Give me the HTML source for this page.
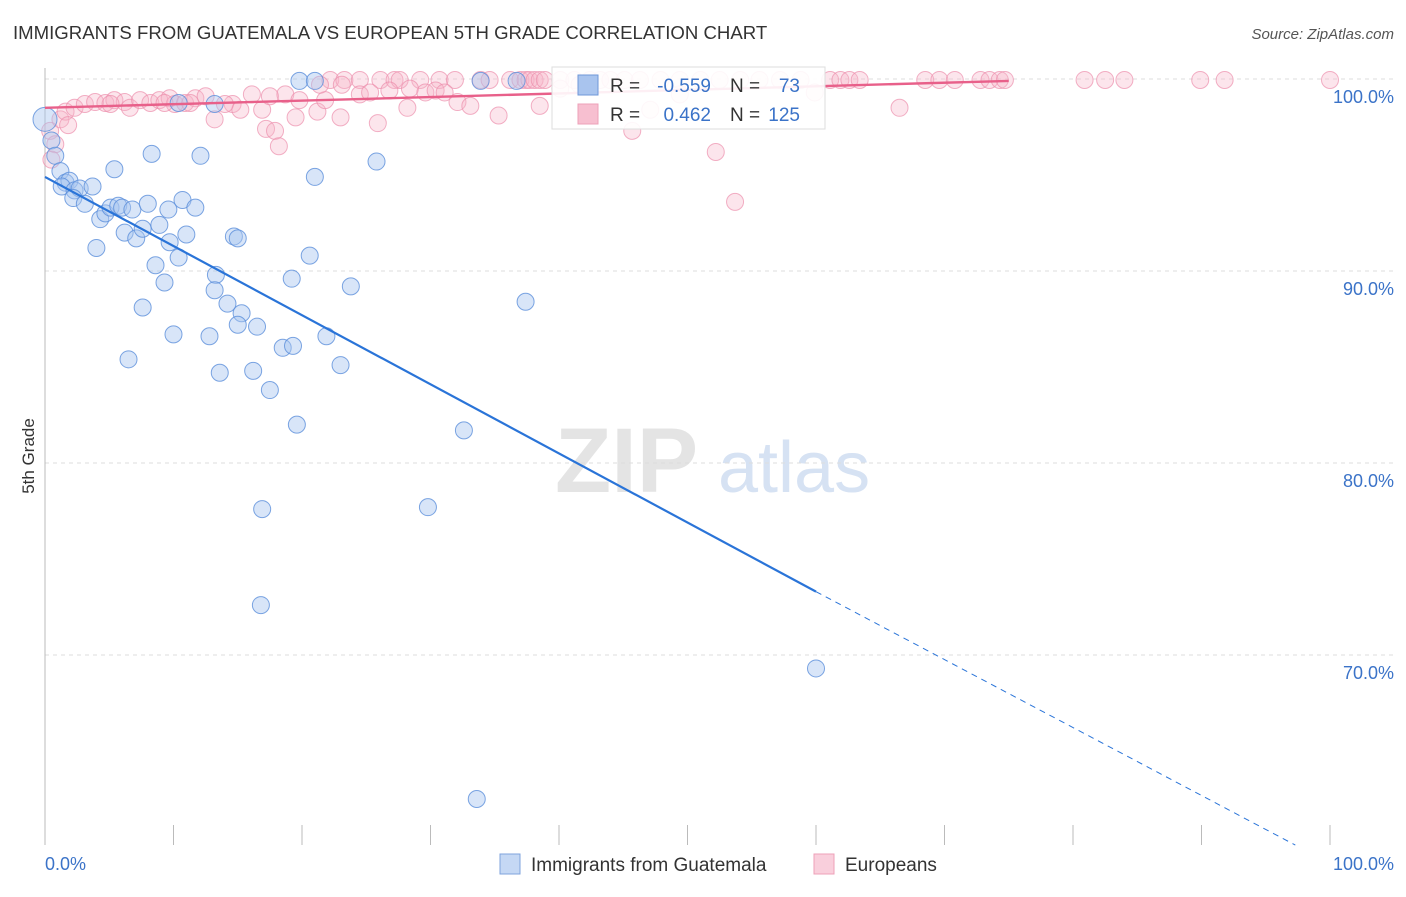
<!DOCTYPE html>
<html><head><meta charset="utf-8"><style>
body{margin:0;background:#fff;font-family:"Liberation Sans",sans-serif;}
svg text{font-family:"Liberation Sans",sans-serif;}
</style></head><body>
<svg id="c" width="1406" height="892" xmlns="http://www.w3.org/2000/svg">
<text x="13" y="39" font-size="18.6" fill="#333">IMMIGRANTS FROM GUATEMALA VS EUROPEAN 5TH GRADE CORRELATION CHART</text>
<text x="1394" y="39" font-size="15" fill="#555" font-style="italic" text-anchor="end">Source: ZipAtlas.com</text>
<g>
<text x="555" y="492" font-size="92" fill="#e4e4e4" font-family="Liberation Serif" font-weight="bold">ZIP</text>
<text x="718" y="492" font-size="72" fill="#d6e2f3">atlas</text>
</g>
<g id="grid"></g>
<g id="axes"></g>
<g id="pts"></g>
<g id="trend"></g>
<text transform="translate(34,456) rotate(-90)" font-size="17" fill="#333" text-anchor="middle">5th Grade</text>
<text x="45" y="870" font-size="18" fill="#3b73c8">0.0%</text>
<text x="1394" y="870" font-size="18" fill="#3b73c8" text-anchor="end">100.0%</text>
<g>
<rect x="552" y="67" width="273" height="62" fill="#fff" fill-opacity="0.9" stroke="#ddd"/>
<rect x="578" y="75" width="20" height="20" fill="#a9c4ee" stroke="#6f97d8"/>
<rect x="578" y="104" width="20" height="20" fill="#f7bfd0" stroke="#eea0b8"/>
<text x="610" y="92" font-size="19" fill="#333">R =</text>
<text x="711" y="92" font-size="19" fill="#3b73c8" text-anchor="end">-0.559</text>
<text x="730" y="92" font-size="19" fill="#333">N =</text>
<text x="800" y="92" font-size="19" fill="#3b73c8" text-anchor="end">73</text>
<text x="610" y="121" font-size="19" fill="#333">R =</text>
<text x="711" y="121" font-size="19" fill="#3b73c8" text-anchor="end">0.462</text>
<text x="730" y="121" font-size="19" fill="#333">N =</text>
<text x="800" y="121" font-size="19" fill="#3b73c8" text-anchor="end">125</text>
</g>
<g>
<rect x="500" y="854" width="20" height="20" fill="#c5d8f4" stroke="#7fa3dc"/>
<text x="531" y="871" font-size="19" fill="#333">Immigrants from Guatemala</text>
<rect x="814" y="854" width="20" height="20" fill="#f9cfdc" stroke="#eea0b8"/>
<text x="845" y="871" font-size="19" fill="#333">Europeans</text>
</g>
</svg>
<script>
const yTicks=[100,90,80,70];
const yTickLabels=["100.0%","90.0%","80.0%","70.0%"];
const xTicks=[0,10,20,30,40,50,60,70,80,90,100];
const blueX=[19.8,21.0,36.7,33.9,10.4,13.2,0,0.5,0.8,1.2,1.6,1.9,1.3,2.3,2.7,3.7,2.2,3.1,4.3,4.7,5.1,5.7,6.0,6.8,5.4,8.3,12.1,8.0,9.6,10.7,11.7,6.2,7.1,7.6,8.9,9.7,11.0,4.0,10.4,8.6,9.3,13.3,13.2,7.6,14.2,15.3,15.0,16.5,14.7,15.0,21.0,25.8,20.6,19.2,23.8,37.4,10.0,12.8,18.5,19.3,21.9,6.5,13.6,16.2,23.0,17.5,19.6,32.6,16.9,29.8,16.8,60.0,33.6];
const blueY=[99.9,99.9,99.9,99.9,98.75,98.7,97.9,96.8,96.0,95.2,94.6,94.7,94.4,94.2,94.3,94.4,93.8,93.5,92.7,93.0,93.3,93.4,93.3,93.2,95.3,96.1,96.0,93.5,93.2,93.7,93.3,92.0,91.7,92.2,92.4,91.5,91.9,91.2,90.7,90.3,89.4,89.8,89.0,88.1,88.3,87.8,87.2,87.1,91.8,91.7,94.9,95.7,90.8,89.6,89.2,88.4,86.7,86.6,86.0,86.1,86.6,85.4,84.7,84.8,85.1,83.8,82.0,81.7,77.6,77.7,72.6,69.3,62.5];
const pinkX=[22.2,23.3,24.5,26.1,27.2,27.6,29.2,30.7,31.9,33.9,34.6,36.2,37.0,37.4,37.7,38.1,38.5,38.9,40.1,41.2,42.4,43.2,44.0,45.1,46.3,47.9,49.4,51.0,52.5,54.1,55.6,57.2,58.8,61.1,61.9,62.6,63.4,68.5,69.6,70.8,72.8,73.5,74.3,74.7,80.9,82.5,84.0,89.9,91.8,100,
0.4,0.8,0.5,1.2,1.6,2.3,3.1,3.9,4.7,5.4,6.2,6.6,7.4,8.2,8.9,9.7,10.1,10.9,11.7,12.5,14.6,15.2,16.1,16.9,17.2,17.9,18.2,13.2,18.7,19.5,19.8,21.2,21.8,21.4,23.0,24.5,25.3,25.9,26.8,28.4,28.2,29.6,30.4,31.1,32.1,33.1,35.3,38.5,40.1,41.6,45.7,47.1,49.4,52.2,53.7,66.5,59.9,1.8,5.1,9.3,11.3,14.0,17.5,23.1];
const pinkY=[99.95,99.95,99.95,99.95,99.95,99.95,99.95,99.95,99.95,99.95,99.95,99.95,99.95,99.95,99.95,99.95,99.95,99.95,99.95,99.95,99.95,99.95,99.95,99.95,99.95,99.95,99.95,99.95,99.95,99.95,99.95,99.95,99.95,99.95,99.95,99.95,99.95,99.95,99.95,99.95,99.95,99.95,99.95,99.95,99.95,99.95,99.95,99.95,99.95,99.95,
97.3,96.6,95.8,97.9,98.3,98.5,98.7,98.8,98.75,98.9,98.8,98.5,98.9,98.75,98.9,99.0,98.7,98.75,99.0,99.1,98.7,98.4,99.2,98.4,97.4,97.3,96.5,97.9,99.2,98.0,98.9,98.3,98.9,99.7,98.0,99.2,99.3,97.7,99.4,99.5,98.5,99.3,99.4,99.3,98.8,98.6,98.1,98.6,99.5,99.7,97.3,98.4,99.2,96.2,93.6,98.5,99.3,97.6,98.7,98.75,98.75,98.7,99.1,99.7];
const blueTrend=[[0,94.9],[60,73.3],[97.3,60.1]];
const pinkTrend=[[0,98.5],[75,99.9]];
const X=v=>45+v*12.85, Y=v=>79+(100-v)*19.2;
const NS="http://www.w3.org/2000/svg";
function mk(tag,attrs,parent){const e=document.createElementNS(NS,tag);for(const k in attrs)e.setAttribute(k,attrs[k]);parent.appendChild(e);return e;}
const grid=document.getElementById('grid'),axes=document.getElementById('axes'),pts=document.getElementById('pts'),tr=document.getElementById('trend');
yTicks.forEach((t,i)=>{
 const l=mk('line',{x1:45,x2:1394,y1:Y(t),y2:Y(t),stroke:'#ddd','stroke-dasharray':'4,4'},grid);
 
 
 const tx=mk('text',{x:1394,y:Y(t)+24,'font-size':18,fill:'#3b73c8','text-anchor':'end'},grid);
 tx.textContent=yTickLabels[i];
 
 
});
const ax=mk('line',{x1:45,x2:45,y1:68,y2:845,stroke:'#bbb'},axes);


xTicks.forEach(t=>{
 const l=mk('line',{x1:X(t),x2:X(t),y1:825,y2:845,stroke:'#bbb'},axes);
 
 
});
pinkX.forEach((v,i)=>{
 const c=mk('circle',{cx:X(v),cy:Y(pinkY[i]),r:8.5,fill:'#f6b5c9','fill-opacity':0.35,stroke:'#ec8fac','stroke-opacity':0.7},pts);
 
 
});
blueX.forEach((v,i)=>{
 const c=mk('circle',{cx:X(v),cy:Y(blueY[i]),r:i==6?12:8.5,fill:'#a9c6ef','fill-opacity':0.45,stroke:'#5b8fdb','stroke-opacity':0.8},pts);
 
 
});
const b1=mk('line',{x1:X(blueTrend[0][0]),y1:Y(blueTrend[0][1]),x2:X(blueTrend[1][0]),y2:Y(blueTrend[1][1]),stroke:'#2a74d8','stroke-width':2.2},tr);


const b2=mk('line',{x1:X(blueTrend[1][0]),y1:Y(blueTrend[1][1]),x2:X(blueTrend[2][0]),y2:Y(blueTrend[2][1]),stroke:'#2a74d8','stroke-width':1,'stroke-dasharray':'6,5'},tr);


const p1=mk('line',{x1:X(pinkTrend[0][0]),y1:Y(pinkTrend[0][1]),x2:X(pinkTrend[1][0]),y2:Y(pinkTrend[1][1]),stroke:'#e8608a','stroke-width':2.4},tr);


</script>
</body></html>
